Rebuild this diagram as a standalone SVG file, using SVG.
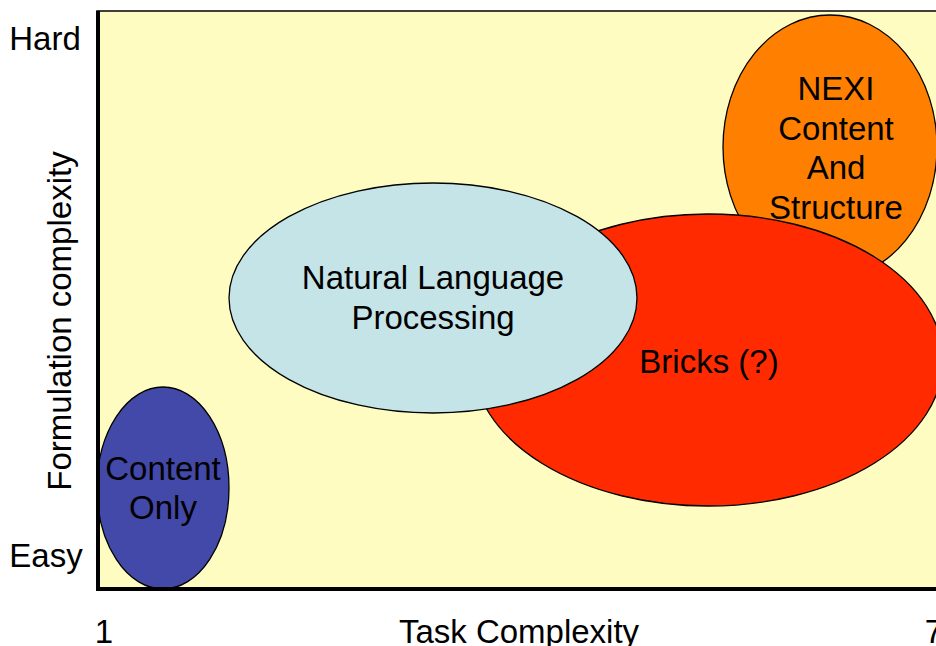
<svg xmlns="http://www.w3.org/2000/svg" width="936" height="646" viewBox="0 0 936 646">
<style>
.t{font-family:"Liberation Sans",Arial,sans-serif;font-size:33px;fill:#000;text-anchor:middle}
.e{stroke:#000;stroke-width:1.3}
</style>
<rect width="936" height="646" fill="#fff"/>
<g id="plot">
<rect x="97" y="11" width="845" height="578" fill="#FFFCC2" stroke="#000" stroke-width="1.5"/>
</g>
<g id="nexi">
<ellipse class="e" cx="830" cy="147" rx="107" ry="132" fill="#FF8000"/>
<text class="t" x="836" y="100">NEXI</text>
<text class="t" x="836" y="140">Content</text>
<text class="t" x="836" y="179">And</text>
<text class="t" x="836" y="219">Structure</text>
</g>
<g id="bricks">
<ellipse class="e" cx="708" cy="360" rx="235" ry="146" fill="#FF2A00"/>
<text class="t" x="709" y="373">Bricks (?)</text>
</g>
<g id="nlp">
<ellipse class="e" cx="433" cy="298" rx="204" ry="115" fill="#C5E4E8"/>
<text class="t" x="433" y="289">Natural Language</text>
<text class="t" x="433" y="329">Processing</text>
</g>
<g id="content-only">
<ellipse class="e" cx="163" cy="488" rx="66" ry="101" fill="#4349A8"/>
<text class="t" x="163" y="480">Content</text>
<text class="t" x="163" y="519">Only</text>
</g>
<g id="axes">
<line x1="98" y1="11" x2="98" y2="591" stroke="#000" stroke-width="4"/>
<line x1="96" y1="589" x2="936" y2="589" stroke="#000" stroke-width="4"/>
<text class="t" x="45" y="50">Hard</text>
<text class="t" x="46" y="567">Easy</text>
<text class="t" x="104" y="643">1</text>
<text class="t" x="519" y="643">Task Complexity</text>
<text class="t" x="934" y="643">7</text>
<text class="t" transform="translate(71 321) rotate(-90)">Formulation complexity</text>
</g>
</svg>
